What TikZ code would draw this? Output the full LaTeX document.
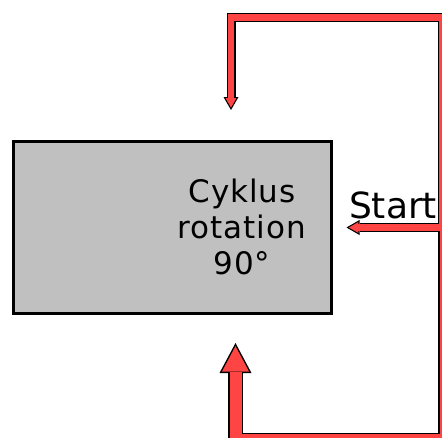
\documentclass[tikz,border=0pt]{standalone}
\usepackage{fontspec}
\setmainfont{DejaVu Sans}
\usetikzlibrary{arrows.meta, positioning, calc}
\definecolor{flowred}{HTML}{FF4444}
\definecolor{boxgray}{HTML}{C0C0C0}

\begin{document}
\begin{tikzpicture}[
  x=1pt, y=-1pt,
  box/.style={draw=black, line width=3pt, fill=boxgray,
    minimum width=318pt, minimum height=172pt, inner sep=0pt},
  caption/.style={font=\fontsize{31}{36}\selectfont\addfontfeature{LetterSpace=3},
    text=black, align=center, inner sep=0pt},
  startlbl/.style={font=\fontsize{36}{40}\selectfont, text=black, inner sep=0pt},
  outlthin/.style={draw=black, line width=9pt,
    -{Triangle[length=13pt, width=15pt, line width=0pt]}},
  corethin/.style={draw=flowred, line width=6.6pt, shorten >=2.4pt,
    -{Triangle[length=9.4pt, width=10.8pt, line width=0pt]}},
  outlthick/.style={draw=black, line width=15pt,
    -{Triangle[length=30pt, width=32pt, line width=0pt]}},
  corethick/.style={draw=flowred, line width=12pt, shorten >=3.2pt,
    -{Triangle[length=25.3pt, width=27pt, line width=0pt]}},
]

\useasboundingbox (0,0) rectangle (442,437);

% =============================================
% Box and texts
% =============================================
\node[box] (cyc) at (172.5,227.5) {};
\node[caption] (lbl) at (242,227) {Cyklus\\rotation\\90°};
\node[startlbl, anchor=base] (start) at (393,218) {Start};

% =============================================
% Red flow lines (outline first, then core)
% =============================================
\coordinate (src) at (442,227.5);
\coordinate (topl) at (231,17.5);
\coordinate (toptip) at (231,110);
\coordinate (botl) at (235.5,440);
\coordinate (bottip) at (235.5,343);

\foreach \pass in {outl,core} {
  \draw[\pass thin] (src) |- (topl) -- (toptip);
  \draw[\pass thin] (src) -- ([xshift=13.5pt]cyc.east);
  \draw[\pass thick] ([xshift=3.5pt]src) |- (botl) -- (bottip);
}

\end{tikzpicture}
\end{document}
